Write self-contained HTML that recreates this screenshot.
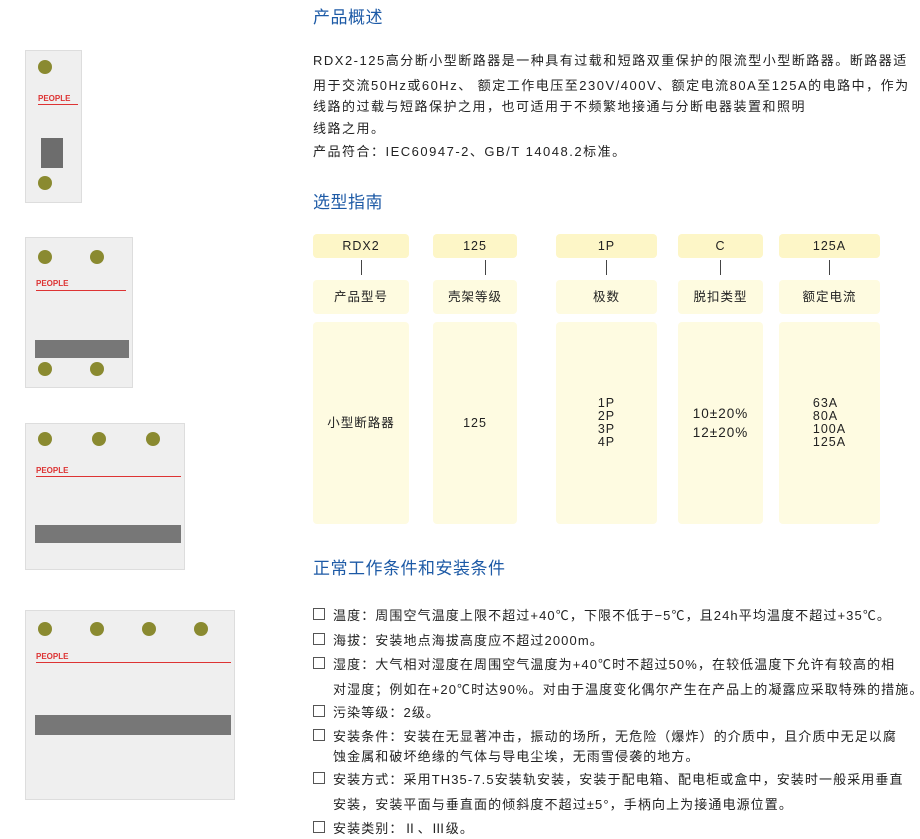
<!DOCTYPE html>
<html><head><meta charset="utf-8">
<style>
*{margin:0;padding:0;box-sizing:border-box}
body{width:920px;height:839px;background:#fff;position:relative;overflow:hidden;font-family:"Liberation Sans","Noto Sans CJK SC",sans-serif;color:#222}
.a{position:absolute;white-space:nowrap}
h2{position:absolute;font-weight:normal;font-size:17px;color:#1d5aa6;left:313px;letter-spacing:0.5px}
.p{font-size:13px;left:313px;letter-spacing:1.5px}
.bx{position:absolute;background:#fdf6c7;border-radius:4px;display:flex;align-items:center;justify-content:center;font-size:12.5px;text-align:center;line-height:13px;color:#222;letter-spacing:1px}
.lb{background:#fefbe0}
.big{background:#fefbe1}
.ln{position:absolute;width:1px;height:15px;background:#444;top:260px}
.cb{position:absolute;left:313px;width:12px;height:12px;border:1px solid #555}
.t{font-size:13px;left:333px;letter-spacing:1.1px}
.brk{position:absolute;background:#ececec;border:1px solid #ddd}
</style></head><body>

<!-- breakers -->
<div class="brk" style="left:25px;top:50px;width:57px;height:153px;background:#efefef"></div>
<div class="a" style="left:38px;top:60px;width:14px;height:14px;border-radius:50%;background:#8a8a30"></div>
<div class="a" style="left:38px;top:176px;width:14px;height:14px;border-radius:50%;background:#8a8a30"></div>
<div class="a" style="left:38px;top:94px;font-size:8px;color:#d33;font-weight:bold">PEOPLE</div>
<div class="a" style="left:38px;top:104px;width:40px;height:1px;background:#d33"></div>
<div class="a" style="left:41px;top:138px;width:22px;height:30px;background:#6d6d6d"></div>

<div class="brk" style="left:25px;top:237px;width:108px;height:151px;background:#efefef"></div>
<div class="a" style="left:38px;top:250px;width:14px;height:14px;border-radius:50%;background:#8a8a30"></div>
<div class="a" style="left:90px;top:250px;width:14px;height:14px;border-radius:50%;background:#8a8a30"></div>
<div class="a" style="left:38px;top:362px;width:14px;height:14px;border-radius:50%;background:#8a8a30"></div>
<div class="a" style="left:90px;top:362px;width:14px;height:14px;border-radius:50%;background:#8a8a30"></div>
<div class="a" style="left:36px;top:279px;font-size:8px;color:#d33;font-weight:bold">PEOPLE</div>
<div class="a" style="left:36px;top:290px;width:90px;height:1px;background:#d33"></div>
<div class="a" style="left:35px;top:340px;width:94px;height:18px;background:#777"></div>

<div class="brk" style="left:25px;top:423px;width:160px;height:147px;background:#efefef"></div>
<div class="a" style="left:36px;top:466px;font-size:8px;color:#d33;font-weight:bold">PEOPLE</div>
<div class="a" style="left:36px;top:476px;width:145px;height:1px;background:#d33"></div>
<div class="a" style="left:35px;top:525px;width:146px;height:18px;background:#777"></div>
<div class="a" style="left:38px;top:432px;width:14px;height:14px;border-radius:50%;background:#8a8a30"></div>
<div class="a" style="left:92px;top:432px;width:14px;height:14px;border-radius:50%;background:#8a8a30"></div>
<div class="a" style="left:146px;top:432px;width:14px;height:14px;border-radius:50%;background:#8a8a30"></div>

<div class="brk" style="left:25px;top:610px;width:210px;height:190px;background:#efefef"></div>
<div class="a" style="left:36px;top:652px;font-size:8px;color:#d33;font-weight:bold">PEOPLE</div>
<div class="a" style="left:36px;top:662px;width:195px;height:1px;background:#d33"></div>
<div class="a" style="left:35px;top:715px;width:196px;height:20px;background:#777"></div>
<div class="a" style="left:38px;top:622px;width:14px;height:14px;border-radius:50%;background:#8a8a30"></div>
<div class="a" style="left:90px;top:622px;width:14px;height:14px;border-radius:50%;background:#8a8a30"></div>
<div class="a" style="left:142px;top:622px;width:14px;height:14px;border-radius:50%;background:#8a8a30"></div>
<div class="a" style="left:194px;top:622px;width:14px;height:14px;border-radius:50%;background:#8a8a30"></div>

<h2 class="a" style="top:3px">产品概述</h2>
<div class="a p" style="top:50px">RDX2-125高分断小型断路器是一种具有过载和短路双重保护的限流型小型断路器。断路器适</div>
<div class="a p" style="top:75px">用于交流50Hz或60Hz、 额定工作电压至230V/400V、额定电流80A至125A的电路中，作为</div>
<div class="a p" style="top:96px">线路的过载与短路保护之用，也可适用于不频繁地接通与分断电器装置和照明</div>
<div class="a p" style="top:118px">线路之用。</div>
<div class="a p" style="top:141px">产品符合：IEC60947-2、GB/T 14048.2标准。</div>

<h2 class="a" style="top:188px">选型指南</h2>

<div class="bx" style="left:313px;top:234px;width:96px;height:24px">RDX2</div>
<div class="bx" style="left:433px;top:234px;width:84px;height:24px">125</div>
<div class="bx" style="left:556px;top:234px;width:101px;height:24px">1P</div>
<div class="bx" style="left:678px;top:234px;width:85px;height:24px">C</div>
<div class="bx" style="left:779px;top:234px;width:101px;height:24px">125A</div>
<div class="ln" style="left:361px"></div>
<div class="ln" style="left:485px"></div>
<div class="ln" style="left:606px"></div>
<div class="ln" style="left:720px"></div>
<div class="ln" style="left:829px"></div>
<div class="bx lb" style="left:313px;top:280px;width:96px;height:34px">产品型号</div>
<div class="bx lb" style="left:433px;top:280px;width:84px;height:34px">壳架等级</div>
<div class="bx lb" style="left:556px;top:280px;width:101px;height:34px">极数</div>
<div class="bx lb" style="left:678px;top:280px;width:85px;height:34px">脱扣类型</div>
<div class="bx lb" style="left:779px;top:280px;width:101px;height:34px">额定电流</div>
<div class="bx big" style="left:313px;top:322px;width:96px;height:202px">小型断路器</div>
<div class="bx big" style="left:433px;top:322px;width:84px;height:202px">125</div>
<div class="bx big" style="left:556px;top:322px;width:101px;height:202px">1P<br>2P<br>3P<br>4P</div>
<div class="bx big" style="left:678px;top:322px;width:85px;height:202px;font-size:13.5px;line-height:19px">10±20%<br>12±20%</div>
<div class="bx big" style="left:779px;top:322px;width:101px;height:202px;text-align:left"><div>63A<br>80A<br>100A<br>125A</div></div>

<h2 class="a" style="top:554px">正常工作条件和安装条件</h2>

<div class="cb" style="top:608px"></div><div class="a t" style="top:605px">温度：周围空气温度上限不超过+40℃，下限不低于−5℃，且24h平均温度不超过+35℃。</div>
<div class="cb" style="top:633px"></div><div class="a t" style="top:630px">海拔：安装地点海拔高度应不超过2000m。</div>
<div class="cb" style="top:657px"></div><div class="a t" style="top:654px">湿度：大气相对湿度在周围空气温度为+40℃时不超过50%，在较低温度下允许有较高的相</div>
<div class="a t" style="top:679px">对湿度；例如在+20℃时达90%。对由于温度变化偶尔产生在产品上的凝露应采取特殊的措施。</div>
<div class="cb" style="top:705px"></div><div class="a t" style="top:702px">污染等级：2级。</div>
<div class="cb" style="top:729px"></div><div class="a t" style="top:726px">安装条件：安装在无显著冲击，振动的场所，无危险（爆炸）的介质中，且介质中无足以腐</div>
<div class="a t" style="top:746px">蚀金属和破坏绝缘的气体与导电尘埃，无雨雪侵袭的地方。</div>
<div class="cb" style="top:772px"></div><div class="a t" style="top:769px">安装方式：采用TH35-7.5安装轨安装，安装于配电箱、配电柜或盒中，安装时一般采用垂直</div>
<div class="a t" style="top:794px">安装，安装平面与垂直面的倾斜度不超过±5°，手柄向上为接通电源位置。</div>
<div class="cb" style="top:821px"></div><div class="a t" style="top:818px">安装类别：Ⅱ、Ⅲ级。</div>

</body></html>
